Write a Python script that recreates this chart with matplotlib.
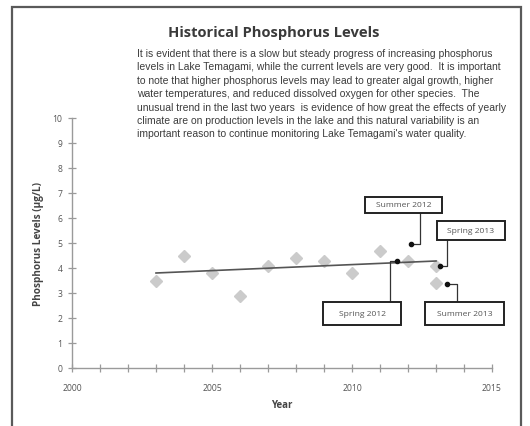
import matplotlib
matplotlib.use("Agg")
import matplotlib.pyplot as plt
import numpy as np
from matplotlib.patches import Rectangle

# ---------------- data ----------------
years = [2003, 2004, 2005, 2006, 2007, 2008, 2009, 2010, 2011, 2012, 2013, 2013]
phosphorus = [3.5, 4.5, 3.8, 2.9, 4.1, 4.4, 4.3, 3.8, 4.7, 4.28, 4.1, 3.4]

trend_years = [2003, 2013]
trend_values = [3.8, 4.28]

season_labels = ["Spring 2012", "Summer 2012", "Spring 2013", "Summer 2013"]
season_years = [2011.6, 2012.1, 2013.15, 2013.4]
season_values = [4.28, 4.95, 4.08, 3.36]

x_tick_years = list(range(2000, 2016))
x_label_years = [2000, 2005, 2010, 2015]
y_ticks = list(range(0, 11))

title = "Historical Phosphorus Levels"
body_lines = [
    "It is evident that there is a slow but steady progress of increasing phosphorus",
    "levels in Lake Temagami, while the current levels are very good.  It is important",
    "to note that higher phosphorus levels may lead to greater algal growth, higher",
    "water temperatures, and reduced dissolved oxygen for other species.  The",
    "unusual trend in the last two years  is evidence of how great the effects of yearly",
    "climate are on production levels in the lake and this natural variability is an",
    "important reason to continue monitoring Lake Temagami's water quality.",
]

# ---------------- figure ----------------
W, H = 530, 427
fig = plt.figure(figsize=(W / 100, H / 100), dpi=100)
fig.patch.set_facecolor("white")

def fx(x):
    return x / W

def fy(y):
    return 1 - y / H

# outer frame
fig.patches.append(Rectangle((fx(12), fy(440)), fx(521) - fx(12), fy(8) - fy(440),
                             transform=fig.transFigure, fill=False,
                             edgecolor="#5a5a5a", lw=1.6))

# axes
ax_l, ax_r, ax_t, ax_b = 72, 492, 119, 369
ax = fig.add_axes([fx(ax_l), fy(ax_b), fx(ax_r) - fx(ax_l), fy(ax_t) - fy(ax_b)])
ax.set_xlim(2000, 2015)
ax.set_ylim(0, 10)
for s in ["top", "right"]:
    ax.spines[s].set_visible(False)
for s in ["left", "bottom"]:
    ax.spines[s].set_color("#9a9a9a")
    ax.spines[s].set_linewidth(1.0)
ax.patch.set_alpha(0)

ax.set_xticks(x_tick_years)
ax.set_xticklabels([str(y) if y in x_label_years else "" for y in x_tick_years])
ax.set_yticks(y_ticks)
ax.set_yticklabels([str(v) for v in y_ticks])
ax.tick_params(direction="inout", length=6, width=0.9, color="#9a9a9a",
               labelsize=6.2, labelcolor="#555555", pad=4, labelfontfamily="Open Sans")
ax.tick_params(axis="x", pad=8)

ax.set_xlabel("Year", fontsize=7, fontweight="bold", color="#444444",
              family="Open Sans", labelpad=5)
ax.set_ylabel("Phosphorus Levels (µg/L)", fontsize=7.2, fontweight="bold",
              color="#444444", family="Open Sans", labelpad=6)

# data points
ax.plot(years, phosphorus, linestyle="none", marker="D", markersize=6.5,
        color="#cbcbcb", markeredgecolor="#cbcbcb", zorder=2)

# trend line
ax.plot(trend_years, trend_values, color="#555555", lw=1.2, zorder=3)

# annotation boxes and connectors
box_specs = {
    # label: (box center x, box center y, box half-w px, half-h px)
    "Spring 2012": (2010.375, 2.18, 39, 11.5),
    "Summer 2012": (2011.84, 6.52, 38.5, 8),
    "Spring 2013": (2014.25, 5.5, 34, 9.5),
    "Summer 2013": (2014.02, 2.18, 39.5, 11.5),
}
px_per_year = (ax_r - ax_l) / 15
px_per_unit = (ax_b - ax_t) / 10

for lab, sx, sv in zip(season_labels, season_years, season_values):
    cx, cy, hw, hh = box_specs[lab]
    dx = hw / px_per_year
    dy = hh / px_per_unit
    ax.add_patch(Rectangle((cx - dx, cy - dy), 2 * dx, 2 * dy, facecolor="white",
                           edgecolor="#222222", lw=1.4, zorder=5, clip_on=False))
    ax.text(cx, cy, lab, ha="center", va="center", fontsize=6.1, color="#555555",
            family="Open Sans", zorder=6)
    ax.plot([sx], [sv], marker="o", markersize=3, color="#111111", zorder=7)

# connectors (elbow lines from box edge to season point)
conn_color = "#333333"
x_el = 2011.36
ax.plot([x_el, x_el, season_years[0]],
        [2.18 + 11.5 / px_per_unit, season_values[0], season_values[0]],
        color=conn_color, lw=0.9, zorder=4)
x_el = 2012.43
ax.plot([x_el, x_el, season_years[1]],
        [6.52 - 8 / px_per_unit, season_values[1], season_values[1]],
        color=conn_color, lw=0.9, zorder=4)
x_el = 2013.39
ax.plot([x_el, x_el, season_years[2]],
        [5.5 - 9.5 / px_per_unit, season_values[2], season_values[2]],
        color=conn_color, lw=0.9, zorder=4)
x_el = 2013.75
ax.plot([season_years[3], x_el, x_el],
        [season_values[3], season_values[3], 2.18 + 11.5 / px_per_unit],
        color=conn_color, lw=0.9, zorder=4)

# title and body text
fig.text(fx(274), fy(33), title, ha="center", va="center", fontsize=10.6,
         fontweight="bold", color="#3a3a3a", family="Open Sans")
for i, line in enumerate(body_lines):
    fig.text(fx(137), fy(54 + i * 13.4), line, ha="left", va="center",
             fontsize=7.5, color="#3c3c3c", family="Liberation Sans")

fig.savefig("out.png", dpi=100)
